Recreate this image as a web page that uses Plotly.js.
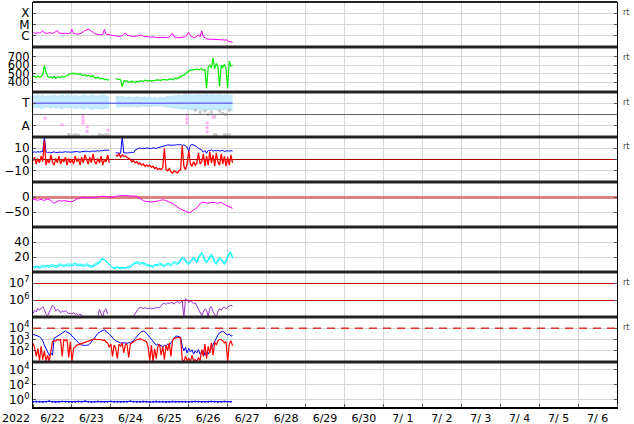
<!DOCTYPE html>
<html><head><meta charset="utf-8">
<script src="https://cdn.plot.ly/plotly-3.0.1.min.js"></script>
<style>html,body{margin:0;padding:0;background:#fff}#c{width:634px;height:424px}</style>
</head><body><div id="c"></div>
<script>
// ---- data (hourly from 2022-06-22 00:00 UT unless noted) ----
const startDay = '2022-06-22';
const endDay = '2022-07-07';
const yearLabel = '2022';

// X-ray flux, units of 1e-6 W/m2 (C1 = 1)
const xrayMicro = [
1.7,1.8,1.6,1.9,1.7,2.0,2.8,1.8,1.7,1.6,1.9,1.7,1.6,1.8,2.2,2.9,1.7,1.6,1.5,1.6,1.7,1.5,1.6,1.7,
3.7,1.6,1.5,1.4,1.4,1.5,1.7,2.2,2.9,3.5,3.8,3.3,2.5,1.8,1.5,1.4,1.3,1.3,1.2,1.3,3.7,1.4,1.3,1.2,
1.1,1.0,1.0,0.95,0.9,0.9,0.95,1.0,1.3,1.8,1.1,1.0,0.9,0.9,0.85,0.9,0.9,1.0,1.1,1.2,0.9,0.85,0.8,0.8,
0.75,0.75,0.8,0.7,0.7,0.72,0.7,0.68,0.7,0.7,0.72,0.7,0.8,1.2,1.7,0.8,0.7,0.7,0.68,0.72,0.75,0.7,0.8,1.3,
2.0,1.0,0.8,0.7,0.7,0.9,1.3,0.8,2.8,0.8,0.6,0.55,0.5,0.5,0.5,0.48,0.5,0.45,0.47,0.45,0.42,0.45,0.4,0.45,
0.35,0.32,0.3,0.26];
const xrayTickVals = [1e-4,1e-5,1e-6];
const xrayTickText = ['X','M','C'];

// Solar wind speed km/s
const windSpeed = [
465,470,455,475,460,468,490,596,520,470,455,462,450,470,448,458,465,452,470,460,475,480,490,505,
498,510,495,505,490,500,485,478,490,470,482,475,465,480,455,450,462,445,440,448,430,438,425,432,
null,null,null,
440,435,438,430,347,415,420,410,405,398,415,408,395,412,405,420,415,410,425,418,415,
422,412,420,418,428,425,430,422,435,428,432,425,438,440,430,445,450,440,455,470,478,485,500,520,
530,545,540,550,548,560,545,555,560,540,550,330,580,600,570,690,560,620,580,350,600,575,610,560,
330,650,590,600];
const speedTicks = [400,500,600,700];

// T / A panel: light-blue band (upper, lower), grey and pink points
const bandHi = [
3.6,3.65,3.55,3.7,3.6,3.55,3.65,3.6,3.5,3.6,3.55,3.65,3.6,3.7,3.6,3.55,3.6,3.65,3.7,3.6,3.55,3.65,3.7,3.6,
3.55,3.6,3.65,3.6,3.5,3.55,3.6,3.7,3.65,3.6,3.55,3.6,3.65,3.7,3.6,3.55,3.6,3.65,3.6,3.7,3.65,3.6,3.55,3.5,
null,null,null,
3.55,3.6,3.5,3.55,3.6,3.5,3.45,3.5,3.55,3.45,3.5,3.5,3.45,3.55,3.5,3.45,3.5,3.45,3.5,3.4,3.45,
3.5,3.45,3.4,3.5,3.45,3.4,3.45,3.5,3.4,3.45,3.5,3.55,3.5,3.6,3.55,3.6,3.65,3.6,3.7,3.65,3.6,3.7,3.75,3.65,
3.6,3.7,3.65,3.7,3.6,3.7,3.75,3.65,3.7,3.6,3.7,3.75,3.7,3.65,3.7,3.75,3.6,3.7,3.65,3.75,3.7,3.6,3.7,3.65,
3.7,3.6,3.65,3.7];
const bandLo = [
2.7,2.6,2.75,2.65,2.7,2.55,2.7,2.6,2.75,2.7,2.65,2.6,2.7,2.75,2.6,2.65,2.7,2.6,2.55,2.7,2.65,2.6,2.7,2.65,
2.6,2.7,2.65,2.55,2.7,2.6,2.65,2.5,2.6,2.7,2.65,2.55,2.6,2.5,2.65,2.6,2.55,2.6,2.5,2.55,2.6,2.65,2.6,2.7,
null,null,null,
2.7,2.75,2.7,2.8,2.75,2.7,2.75,2.8,2.75,2.7,2.8,2.75,2.8,2.75,2.7,2.8,2.75,2.8,2.75,2.8,2.75,
2.8,2.75,2.8,2.85,2.8,2.75,2.8,2.85,2.8,2.75,2.7,2.75,2.7,2.65,2.7,2.6,2.65,2.6,2.55,2.6,2.5,2.55,2.6,2.5,
2.55,2.5,2.45,2.5,2.55,2.5,2.45,2.5,2.4,2.5,2.45,2.4,2.5,2.45,2.4,2.5,2.45,2.4,2.5,2.45,2.4,2.5,2.45,2.5,
2.45,2.5,2.4,2.5];
const tLevel = 3;
const grayHours = [22,24,26,28,41,43,45,47,112,113,118,120,121,106,108,110,112,115,117,119,121,100,103];
const grayVals  = [0.2,0.15,0.2,0.15,0.2,0.15,0.2,0.15,0.2,0.15,0.2,0.15,0.2,2.3,2.0,2.2,1.8,2.3,2.1,2.0,2.4,2.4,2.2];
const pinkHours = [7.4,17.9,30.8,30.8,30.8,33.3,33.3,46.2,95,95,95,107.3,107.3,107.3,111];
const pinkVals  = [1.66,1.07,1.8,1.5,1.25,0.9,0.5,0.6,1.95,1.6,1.25,1.24,0.85,0.45,1.78];

// IMF Bt (blue) and Bz (red), nT
const imfBt = [
6.5,6.8,6.4,7.0,6.6,6.9,7.2,20,7.0,6.2,6.5,6.0,6.4,6.8,6.2,6.5,6.9,6.6,6.3,6.7,7.0,6.5,6.8,6.4,
6.6,6.9,6.7,7.1,6.8,6.5,7.0,7.2,6.9,7.4,7.1,6.8,7.3,7.6,7.2,7.5,7.8,7.4,8.0,7.8,8.3,8.1,8.4,8.0,
null,null,null,
6.0,5.8,6.2,5.5,20,5.8,6.0,5.6,6.2,5.9,6.5,6.0,8.5,9.5,9.8,10.2,9.6,10.0,9.8,10.3,10.1,
10.0,9.7,10.4,10.2,9.9,10.5,10.8,11.2,11.5,12.0,12.5,13.0,12.8,13.2,12.6,13.0,12.7,13.4,12.9,13.3,12.5,13.0,12.2,11.0,
7.5,12.5,13.5,12.8,12.0,11.5,10.0,9.0,8.5,6.5,8.0,5.5,8.2,7.8,8.5,7.4,8.0,7.6,8.2,7.5,7.8,8.1,7.2,7.6,
7.8,7.4,7.9,7.5];
const imfBz = [
-1,2,-4,1,-3,3,-2,17,-5,0,-3,4,-2,-5,1,-3,3,-4,0,-2,2,-5,1,-3,
0,-4,3,-2,1,-5,2,-3,4,-1,-4,2,-3,5,-2,-4,1,-3,3,-5,0,-2,4,-3,
null,null,null,
4,3,5,2,4,3,3,2,1,0,-2,-1,-3,-2,-4,-3,-5,-4,-6,-5,-6,
-5,-7,-6,-8,-7,-9,-8,-9,-7,10,-9,-10,-8,-11,-12,-10,-11,-12,-10,-9,12,-6,-9,-4,
8,-4,-6,-2,-5,-3,6,-4,-2,5,-6,3,-5,7,-3,4,-6,6,-2,-5,5,-4,3,-6,
2,-5,4,-3];
const imfTicks = [10,0,-10];

// Dst index, nT
const dst = [
-7,-9,-10,-11,-9,-8,-10,-11,-9,-7,-8,-12,-17,-21,-18,-14,-12,-13,-14,-12,-13,-15,-16,-15,
-16,-13,-9,-7,-5,-3,-2,-1,-2,-3,-4,-3,-2,-3,-2,-1,0,2,3,4,3,1,0,-2,
-1,0,0,1,3,4,5,6,5,4,4,3,4,5,4,3,2,-2,-6,-10,-12,-14,-15,-16,
-15,-17,-16,-15,-16,-14,-12,-10,-9,-10,-12,-14,-16,-18,-21,-25,-30,-34,-37,-40,-43,-46,-48,-50,
-51,-52,-47,-42,-39,-36,-28,-22,-17,-18,-20,-22,-21,-19,-18,-17,-18,-20,-21,-19,-18,-22,-25,-28,
-31,-33,-36,-38];
const dstTicks = [0,-50];

// Density (two cyan series)
const densA = [
6,5,7,6,5,6,7,6,8,7,6,7,8,7,6,7,8,9,8,7,8,9,8,9,
8,9,10,9,8,9,8,7,8,9,8,7,6,7,8,9,10,12,15,17,16,14,12,10,
7,5,4,5,6,5,4,5,4,5,6,5,6,8,10,11,12,11,10,12,11,9,8,9,
8,7,6,8,9,8,10,9,8,7,9,10,9,8,10,12,11,10,12,15,18,17,14,11,
10,13,16,18,15,12,18,22,25,20,14,12,16,20,22,18,12,10,14,18,16,12,10,14,
20,24,25,18];
const densB = [
8,7,8,7,7,8,9,8,9,9,8,9,10,9,8,9,10,11,10,9,10,11,10,11,
10,11,12,11,10,11,10,9,10,11,10,9,8,9,10,11,12,14,17,18,17,15,13,11,
8,6,6,7,7,6,6,6,5,6,7,7,8,10,12,13,14,13,12,13,12,11,10,10,
9,9,8,10,10,10,12,11,10,9,11,12,11,10,12,14,13,12,14,17,20,19,16,13,
12,15,18,20,17,14,20,24,26,22,16,14,18,22,24,20,14,12,16,20,18,14,12,16,
22,26,26,20];
const densTicks = [20,40];

// Electron flux (purple)
const electron = [
1.6e5,2.5e5,2.0e5,3.2e5,2.5e5,3.5e5,4.1e5,2.8e5,1.5e5,1.2e5,2.0e5,3.5e5,
5.0e5,4.0e5,2.2e5,2.8e5,2.5e5,1.8e5,2.2e5,2.0e5,2.4e5,1.9e5,1.6e5,1.7e5,
1.5e5,1.8e5,1.4e5,1.6e5,1.3e5,1.5e5,1.2e5,1.1e5,null,null,null,null,
null,null,null,null,1.2e5,2.8e5,1.5e5,1.0e5,2.5e5,3.0e5,1.5e5,null,
null,null,null,null,null,null,null,null,null,null,null,null,null,null,
1.1e5,1.6e5,2.4e5,3.2e5,3.6e5,3.4e5,3.2e5,3.5e5,3.3e5,3.1e5,3.4e5,3.0e5,3.3e5,3.2e5,3.6e5,3.4e5,3.5e5,4.5e5,6.0e5,
6.5e5,5.5e5,7.0e5,6.0e5,7.5e5,6.5e5,5.8e5,7.2e5,8.0e5,6.5e5,7.0e5,9.0e5,1.0e5,
1.2e6,1.05e6,7.0e5,9.0e5,8.0e5,6.0e5,7.0e5,4.5e5,2.5e5,1.5e5,1.2e5,
2.0e5,3.0e5,2.5e5,1.0e5,3.5e5,4.0e5,2.0e5,1.5e5,1.0e5,2.0e5,3.0e5,2.5e5,3.5e5,4.0e5,3.0e5,3.8e5,4.2e5,5.0e5,4.5e5];
const electronTicks = [1e6,1e7];

// Proton-type fluxes (blue, red)
const fluxBlue = [
2900,2500,2240,2000,1780,1260,790,316,158,79,40,63,40,1260,1580,2000,2500,3160,3980,5000,5750,4470,3980,3160,
2000,1580,1000,790,500,400,316,316,280,316,316,400,630,1000,1580,2500,3550,4470,5620,6310,7080,5000,3980,3160,
2000,1260,1000,790,630,560,500,525,480,500,450,525,500,630,790,1260,2000,3160,3980,5000,5620,5000,3550,2500,
1580,1000,630,400,316,400,250,316,200,316,250,400,316,500,790,1580,2000,2000,1780,1580,250,100,200,63,
158,79,126,50,100,63,126,50,79,100,40,79,50,100,158,316,630,1260,2500,3980,5000,5620,3980,3160,
2500,3160,2000,2240];
const fluxRed = [
470,200,32,158,13,250,16,100,13,40,11,63,630,790,710,1000,890,1000,32,1000,790,1000,25,630,
11,158,250,316,355,400,500,560,630,710,790,890,1000,1000,1120,1000,1000,890,1000,790,890,630,500,200,
400,32,316,158,20,400,250,500,63,400,316,25,400,500,630,790,1000,1000,1120,1000,890,790,630,200,
13,316,11,158,20,250,400,40,250,16,316,100,500,32,790,1260,1410,1580,1580,1260,16,11,32,13,
20,11,40,13,16,11,25,13,126,32,400,20,250,63,500,40,630,316,790,1000,1000,790,500,630,
11,400,790,280];
const fluxTicks = [1e2,1e3,1e4];
const fluxAlert = 1e4;

// Bottom panel (every 2 hours)
const lowFlux = [
0.5,0.55,0.5,0.48,0.52,0.6,0.5,0.45,0.5,0.55,0.52,0.5,0.48,0.5,0.55,0.5,0.6,0.5,0.47,0.5,0.53,
0.5,0.48,0.52,0.55,0.5,0.5,0.46,0.5,0.52,0.58,0.5,0.49,0.5,0.53,0.5,0.47,0.5,0.55,0.52,0.5,
0.48,0.5,0.56,0.5,0.49,0.52,0.5,0.47,0.5,0.54,0.5,0.48,0.52,0.5,0.55,0.5,0.47,0.5,0.53,0.5,0.5];
const lowTicks = [1e0,1e2,1e4];

// ---- build ----
const base = Date.UTC(2022,5,22);
function tStr(h){ return new Date(base + h*3600000).toISOString().replace('T',' ').slice(0,19); }
function times(n, step){ const a=[]; for(let i=0;i<n;i++) a.push(tStr(i*step)); return a; }
const tH = times(124,1);
const t2 = times(lowFlux.length,2);
const font = 'DejaVu Sans, Arial, sans-serif';

const traces = [];
function line(y, yax, color, width, xs){
  traces.push({x: xs||tH, y: y, yaxis: yax, xaxis:'x', type:'scatter', mode:'lines',
    line:{color:color, width:width||1}, hoverinfo:'skip', connectgaps:false});
}
// panel 1
line(xrayMicro.map(v=>v*1e-6),'y','#ff00ff',1);
// panel 2
line(windSpeed,'y2','#00ee00',1.2);
// panel 3 band split into runs
(function(){
  let run=null; const runs=[];
  for(let i=0;i<bandHi.length;i++){
    if(bandHi[i]==null){ if(run){runs.push(run);run=null;} continue; }
    if(!run) run={x:[],hi:[],lo:[]};
    run.x.push(tH[i]); run.hi.push(bandHi[i]); run.lo.push(bandLo[i]);
  }
  if(run) runs.push(run);
  runs.forEach(r=>{
    traces.push({x:r.x,y:r.hi,yaxis:'y3',type:'scatter',mode:'lines',line:{color:'#bfe8fc',width:2},hoverinfo:'skip'});
    traces.push({x:r.x,y:r.lo,yaxis:'y3',type:'scatter',mode:'lines',line:{color:'#bfe8fc',width:2},fill:'tonexty',fillcolor:'#c6ebfd',hoverinfo:'skip'});
  });
})();
traces.push({x:grayHours.map(tStr),y:grayVals,yaxis:'y3',type:'scatter',mode:'markers',marker:{color:'#c8c8c8',size:3,symbol:'square'},hoverinfo:'skip'});
traces.push({x:pinkHours.map(tStr),y:pinkVals,yaxis:'y3',type:'scatter',mode:'markers',marker:{color:'#ffb0f4',size:3,symbol:'square'},hoverinfo:'skip'});
traces.push({x:[tH[0],tH[tH.length-1]],y:[tLevel,tLevel],yaxis:'y3',type:'scatter',mode:'lines',line:{color:'#6f6ff5',width:1.5},hoverinfo:'skip'});
// panel 4
line(imfBt,'y4','#0000ff',1);
line(imfBz,'y4','#ff0000',1.3);
// panel 5
line(dst,'y5','#ff00ff',1);
// panel 6
line(densA,'y6','#00ffff',1);
line(densB,'y6','#00ffff',1);
// panel 7
line(electron,'y7','#9933cc',1);
// panel 8
line(fluxBlue,'y8','#0000ff',1);
line(fluxRed,'y8','#ff0000',1.2);
// panel 9
traces.push({x:t2,y:lowFlux,yaxis:'y9',type:'scatter',mode:'lines+markers',line:{color:'#0000ff',width:1},marker:{color:'#0000ff',size:2},hoverinfo:'skip'});

const N = 9;
function dom(i){ return [1-i/N, 1-(i-1)/N]; }
function yax(i, o){
  return Object.assign({domain:dom(i), anchor:'x', showgrid:true, gridcolor:'#d6d6d6', gridwidth:1,
    zeroline:false, showline:true, linecolor:'#000', linewidth:1, mirror:'ticks',
    ticks:'inside', ticklen:3, tickcolor:'#555',
    tickfont:{family:font,size:12,color:'#000'}, fixedrange:true}, o);
}
function pow10(v){ const e=Math.round(Math.log10(v)); return '10<sup>'+e+'</sup>'; }

const layout = {
  width:634, height:424, margin:{l:33,r:17,t:2,b:17}, showlegend:false,
  paper_bgcolor:'#fff', plot_bgcolor:'#fff',
  xaxis:{type:'date', range:[startDay, endDay], anchor:'y9', dtick:86400000, tick0:startDay,
    ticklabelmode:'period', tickformat:'%-m/%e', showgrid:true, gridcolor:'#d6d6d6',
    ticks:'inside', ticklen:3, tickcolor:'#555', showline:true, linecolor:'#000', linewidth:2,
    tickfont:{family:font,size:11,color:'#000'}, fixedrange:true},
  yaxis: yax(1,{type:'log', range:[-7,-3], tickvals:xrayTickVals, ticktext:xrayTickText}),
  yaxis2: yax(2,{range:[286,814], tickvals:speedTicks, tickfont:{family:font,size:11.5,color:'#000'}}),
  yaxis3: yax(3,{range:[0,4], tickvals:[1,3], ticktext:['A','T']}),
  yaxis4: yax(4,{range:[-20,20], tickvals:imfTicks, zeroline:true, zerolinecolor:'#aa0000', zerolinewidth:1}),
  yaxis5: yax(5,{range:[-100,50], tickvals:dstTicks, zeroline:true, zerolinecolor:'rgba(205,90,90,0.75)', zerolinewidth:3}),
  yaxis6: yax(6,{range:[0,60], tickvals:densTicks}),
  yaxis7: yax(7,{type:'log', range:[5,7.65], tickvals:electronTicks, ticktext:electronTicks.map(pow10), gridcolor:'#cc0000'}),
  yaxis8: yax(8,{type:'log', range:[1,5], tickvals:fluxTicks, ticktext:fluxTicks.map(pow10)}),
  yaxis9: yax(9,{type:'log', range:[-1,5], tickvals:lowTicks, ticktext:lowTicks.map(pow10)}),
  shapes: [], annotations: []
};
// panel 3 middle divider
layout.shapes.push({type:'line', xref:'paper', x0:0, x1:1, yref:'y3', y0:2, y1:2, line:{color:'#666',width:1}});
// alert dashed line panel 8
layout.shapes.push({type:'line', xref:'paper', x0:0, x1:1, yref:'y8', y0:fluxAlert, y1:fluxAlert, line:{color:'#dd3333',width:1.5,dash:'8px,6px'}});
for(let k=1;k<N;k++){
  layout.shapes.push({type:'line', xref:'paper', yref:'paper', x0:0, x1:1, y0:k/N, y1:k/N, line:{color:'#222',width:3}});
}
layout.shapes.push({type:'line', xref:'paper', yref:'paper', x0:0, x1:1, y0:1, y1:1, line:{color:'#222',width:2}});
// 'rt' markers
[1,2,3,4,7,8].forEach(i=>{
  layout.annotations.push({xref:'paper', yref:'paper', x:1.006, xanchor:'left', y:1-(i-1)/N - 10/405, yanchor:'middle',
    text:'rt', showarrow:false, font:{family:font,size:8,color:'#444'}});
});
layout.annotations.push({xref:'paper', yref:'paper', x:-0.002, xanchor:'right', y:0, yanchor:'top', yshift:-3,
  text:yearLabel, showarrow:false, font:{family:font,size:11,color:'#000'}});

Plotly.newPlot('c', traces, layout, {staticPlot:true, displayModeBar:false});
</script></body></html>
